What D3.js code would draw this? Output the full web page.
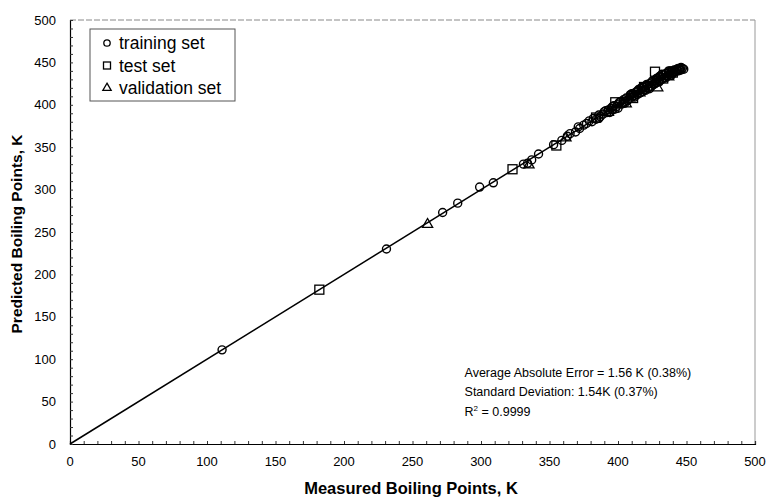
<!DOCTYPE html>
<html>
<head>
<meta charset="utf-8">
<script src="https://cdn.jsdelivr.net/npm/d3@7"></script>
<style>
  body { margin: 0; background: #fff; }
  svg { font-family: Arial, "Liberation Sans", sans-serif; }
</style>
</head>
<body>
<div id="chart"></div>
<script>
// training set (circles)
var trainMeasured = [111, 231, 272, 283, 299, 309, 331, 334, 337, 342,
  353, 359, 363, 365, 369, 371, 372, 375, 377, 379, 381, 382, 384, 386, 387, 389,
  390, 392, 393, 395, 396, 397, 399, 400, 401, 403, 404, 405, 406, 408, 409, 410,
  411, 412, 413, 414, 415, 416, 417, 418, 419, 420, 421, 422, 423, 424, 425, 426,
  427, 428, 429, 430, 431, 432, 433, 434, 435, 436, 437, 438, 439, 440, 441, 442,
  443, 444, 445, 446, 447, 448, 405, 410, 415, 420, 425, 430, 435, 440,
  412, 418, 424, 431, 437, 443,
  386, 391, 394, 398, 402, 404, 407, 409, 411, 414, 416, 419, 421, 423, 426,
  428, 430, 433, 436, 438, 441, 444, 446, 396, 400, 417, 427, 432, 439, 445];
var trainPredicted = [111, 230, 273, 284, 303, 308, 330, 331, 335, 342,
  353, 358, 363, 366, 368, 374, 372, 376, 378, 381, 380, 384, 383, 388, 386, 389,
  392, 391, 394, 396, 394, 399, 398, 401, 403, 401, 406, 404, 408, 407, 411, 409,
  413, 411, 415, 412, 417, 414, 419, 416, 421, 418, 423, 420, 425, 422, 427, 424,
  429, 426, 431, 428, 433, 430, 435, 432, 437, 434, 438, 436, 440, 437, 441, 439,
  442, 440, 442, 441, 443, 442, 402, 413, 418, 417, 428, 433, 432, 438,
  409, 421, 421, 434, 440, 441,
  384, 393, 391, 395, 404, 402, 405, 412, 410, 416, 414, 418, 424, 419, 424,
  431, 427, 431, 434, 440, 439, 443, 444, 398, 396, 420, 425, 436, 435, 441];

// test set (squares)
var testMeasured = [182, 323, 355, 384, 398, 411, 419, 427, 433, 440];
var testPredicted = [182, 324, 352, 385, 403, 408, 421, 439, 431, 438];

// validation set (triangles)
var validMeasured = [261, 335, 362, 393, 406, 416, 429, 437];
var validPredicted = [259, 329, 361, 391, 401, 414, 420, 433];

var tickValues = [0, 50, 100, 150, 200, 250, 300, 350, 400, 450, 500];
var legendLabels = ["training set", "test set", "validation set"];
var statLines = ["Average Absolute Error = 1.56 K (0.38%)",
  "Standard Deviation: 1.54K (0.37%)",
  "R2 = 0.9999"];

function DrawScatter() {
  var margin = {top: 20, right: 12, bottom: 56, left: 70},
      width = 767 - margin.left - margin.right,
      height = 500 - margin.top - margin.bottom;

  var xScale = d3.scaleLinear().domain([0, 500]).range([0, width]);
  var yScale = d3.scaleLinear().domain([0, 500]).range([height, 0]);

  var svg = d3.select("#chart").append("svg")
    .attr("width", 767)
    .attr("height", 500);

  var g = svg.append("g")
    .attr("transform", "translate(" + margin.left + "," + margin.top + ")");

  // frame: top and right edges are faint like the scan
  g.append("line")
    .attr("x1", 0).attr("x2", width).attr("y1", 0).attr("y2", 0)
    .attr("stroke", "#888").attr("stroke-dasharray", "6,2");
  g.append("line")
    .attr("x1", width).attr("x2", width).attr("y1", 0).attr("y2", height)
    .attr("stroke", "#999");

  // minor ticks every 10, pointing inward
  var minor = d3.range(0, 501, 10);
  var xAxis = d3.axisBottom(xScale).tickValues(minor).tickSize(-3).tickFormat("");
  var yAxis = d3.axisLeft(yScale).tickValues(minor).tickSize(-3).tickFormat("");

  var xAxisGroup = g.append("g")
    .attr("transform", "translate(0," + height + ")")
    .call(xAxis);
  var yAxisGroup = g.append("g").call(yAxis);
  [xAxisGroup, yAxisGroup].forEach(function(ax) {
    ax.select(".domain").attr("stroke", "#000").attr("stroke-width", 1.2);
    ax.selectAll(".tick line").attr("stroke", "#333");
  });

  // tick labels
  g.selectAll(".xlab").data(tickValues).enter().append("text")
    .attr("class", "xlab")
    .attr("x", function(d) { return xScale(d); })
    .attr("y", height + 22)
    .attr("text-anchor", "middle")
    .attr("font-size", 13)
    .text(function(d) { return d; });
  g.selectAll(".ylab").data(tickValues).enter().append("text")
    .attr("class", "ylab")
    .attr("x", -14)
    .attr("y", function(d) { return yScale(d) + 4.5; })
    .attr("text-anchor", "end")
    .attr("font-size", 13)
    .text(function(d) { return d; });

  // axis titles
  svg.append("text")
    .attr("x", 411)
    .attr("y", 494)
    .attr("text-anchor", "middle")
    .attr("font-size", 16.5)
    .attr("font-weight", "bold")
    .text("Measured Boiling Points, K");
  svg.append("text")
    .attr("transform", "translate(22," + (margin.top + height / 2 + 2) + ") rotate(-90)")
    .attr("text-anchor", "middle")
    .attr("font-size", 15.5)
    .attr("font-weight", "bold")
    .text("Predicted Boiling Points, K");

  // y = x line
  g.append("line")
    .attr("x1", xScale(0)).attr("y1", yScale(0))
    .attr("x2", xScale(448)).attr("y2", yScale(448))
    .attr("stroke", "#000").attr("stroke-width", 1.5);

  var train = trainMeasured.map(function(m, i) { return [m, trainPredicted[i]]; });
  var test = testMeasured.map(function(m, i) { return [m, testPredicted[i]]; });
  var valid = validMeasured.map(function(m, i) { return [m, validPredicted[i]]; });

  g.selectAll(".train").data(train).enter().append("circle")
    .attr("class", "train")
    .attr("cx", function(d) { return xScale(d[0]); })
    .attr("cy", function(d) { return yScale(d[1]); })
    .attr("r", 4)
    .attr("fill", "none")
    .attr("stroke", "#000")
    .attr("stroke-width", 1.4);

  g.selectAll(".test").data(test).enter().append("rect")
    .attr("class", "test")
    .attr("x", function(d) { return xScale(d[0]) - 4.5; })
    .attr("y", function(d) { return yScale(d[1]) - 4.5; })
    .attr("width", 9)
    .attr("height", 9)
    .attr("fill", "none")
    .attr("stroke", "#000")
    .attr("stroke-width", 1.3);

  var tri = d3.symbol().type(d3.symbolTriangle).size(45);
  g.selectAll(".valid").data(valid).enter().append("path")
    .attr("class", "valid")
    .attr("d", tri)
    .attr("transform", function(d) {
      return "translate(" + xScale(d[0]) + "," + yScale(d[1]) + ")";
    })
    .attr("fill", "none")
    .attr("stroke", "#000")
    .attr("stroke-width", 1.3);

  // legend
  var legend = svg.append("g").attr("transform", "translate(90,29)");
  legend.append("rect")
    .attr("width", 145).attr("height", 72)
    .attr("fill", "#fff").attr("stroke", "#555");
  legendLabels.forEach(function(label, i) {
    var cy = 14 + i * 22.5;
    if (i === 0) {
      legend.append("circle").attr("cx", 17).attr("cy", cy).attr("r", 3.2)
        .attr("fill", "none").attr("stroke", "#000").attr("stroke-width", 1.3);
    } else if (i === 1) {
      legend.append("rect").attr("x", 13.5).attr("y", cy - 3.5)
        .attr("width", 7).attr("height", 7)
        .attr("fill", "none").attr("stroke", "#000").attr("stroke-width", 1.3);
    } else {
      legend.append("path").attr("d", d3.symbol().type(d3.symbolTriangle).size(30))
        .attr("transform", "translate(17," + cy + ")")
        .attr("fill", "none").attr("stroke", "#000").attr("stroke-width", 1.3);
    }
    legend.append("text")
      .attr("x", 29).attr("y", cy + 6)
      .attr("font-size", 17.5)
      .text(label);
  });

  // statistics text
  var stats = g.append("g").attr("transform", "translate(" + xScale(288) + "," + (yScale(85) + 5) + ")");
  stats.append("text").attr("y", 0).attr("font-size", 12.5).text(statLines[0]);
  stats.append("text").attr("y", 19).attr("font-size", 12.5).text(statLines[1]);
  var r2 = stats.append("text").attr("y", 39).attr("font-size", 12.5);
  r2.append("tspan").text("R");
  r2.append("tspan").attr("font-size", 8).attr("dy", -5).text("2");
  r2.append("tspan").attr("dy", 5).text(" = 0.9999");
}

DrawScatter();
</script>
</body>
</html>
